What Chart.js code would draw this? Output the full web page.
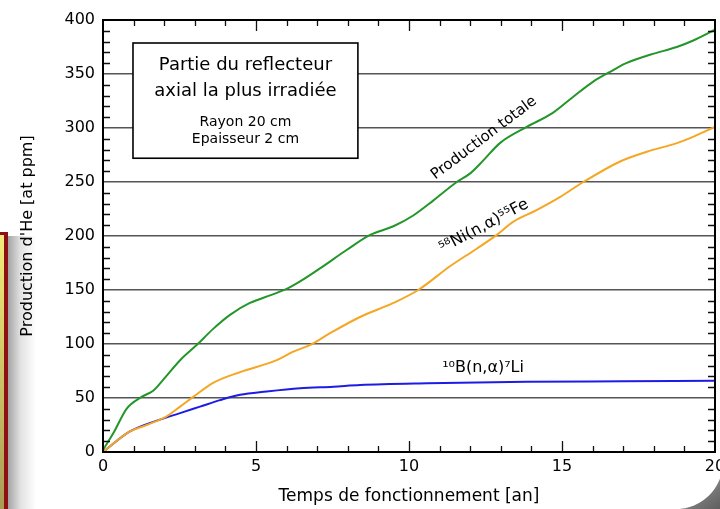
<!DOCTYPE html>
<html>
<head>
<meta charset="utf-8">
<script src="https://cdn.jsdelivr.net/npm/chart.js@4/dist/chart.umd.min.js"></script>
<style>
  html, body { margin: 0; padding: 0; background: #fff; }
  #wrap { width: 720px; height: 509px; position: relative; }
</style>
</head>
<body>
<div id="wrap"><canvas id="c" width="720" height="509"></canvas></div>
<script>
// ---- data ----
const totalYears  = [0, 0.35, 0.77, 1.26, 1.65, 1.97, 2.52, 3.06, 3.6, 4.15, 4.8, 5.46, 6.0, 6.44, 7.09, 7.96, 8.73, 9.49, 10.14, 10.8, 11.56, 12.0, 12.43, 12.97, 13.85, 14.7, 15.37, 16.02, 16.57, 17.1, 17.9, 18.75, 19.29, 20];
const totalValues = [2, 18, 40, 51, 57, 67, 85, 99, 114, 127, 138, 145, 151, 158, 170, 187, 201, 209, 219, 233, 250, 258, 270, 286, 301, 314, 329, 343, 352, 360, 368, 375, 381, 391];

const niYears  = [0, 0.88, 1.43, 2.08, 2.52, 2.95, 3.6, 4.48, 5.68, 6.22, 6.76, 7.42, 8.4, 9.49, 10.3, 11.34, 12.2, 12.87, 13.4, 14.17, 14.93, 15.7, 16.9, 17.77, 18.75, 19.3, 20];
const niValues = [0, 19, 25, 33, 42, 51, 64, 74, 85, 93, 99, 110, 125, 138, 150, 172, 188, 201, 213, 224, 236, 250, 269, 278, 286, 292, 301];

const bYears  = [0, 0.88, 1.86, 2.52, 3.17, 3.82, 4.48, 5.35, 6.44, 7.53, 8.4, 10.6, 13.85, 17, 20];
const bValues = [0, 19, 30, 36, 42, 48, 53, 56, 59, 60.5, 62, 63.6, 65, 65.5, 66];

const seriesNames = ["Production totale", "⁵⁸Ni(n,α)⁵⁵Fe", "¹⁰B(n,α)⁷Li"];
const boxTitle = ["Partie du reflecteur", "axial la plus irradiée"];
const boxSub = ["Rayon 20 cm", "Epaisseur 2 cm"];
const xTitle = "Temps de fonctionnement [an]";
const yTitle = "Production d'He [at ppm]";

const FONT = "'DejaVu Sans', sans-serif";

function pts(xs, ys) { return xs.map((x, i) => ({ x: x, y: ys[i] })); }

// background decoration (frame, shadows)
const bgPlugin = {
  id: 'bg',
  beforeDraw(chart) {
    const ctx = chart.ctx;
    ctx.save();
    ctx.fillStyle = '#fff';
    ctx.fillRect(0, 0, 720, 509);
    // left shadow cast by the frame
    let g = ctx.createLinearGradient(8, 0, 36, 0);
    g.addColorStop(0, '#a5a5a5');
    g.addColorStop(0.45, '#e2e2e2');
    g.addColorStop(1, '#ffffff');
    ctx.fillStyle = g;
    ctx.fillRect(8, 236, 28, 273);
    // left yellow / red frame
    g = ctx.createLinearGradient(0, 233, 0, 509);
    g.addColorStop(0, '#f2ee7a');
    g.addColorStop(1, '#a89c55');
    ctx.fillStyle = g;
    ctx.fillRect(0, 235, 5, 274);
    ctx.fillStyle = '#8a1212';
    ctx.fillRect(0, 232, 8, 3);
    ctx.fillRect(4, 232, 4, 277);
    // bottom-right grey corner
    g = ctx.createLinearGradient(690, 470, 720, 509);
    g.addColorStop(0, '#a0a0a0');
    g.addColorStop(1, '#5e5e5e');
    ctx.fillStyle = g;
    ctx.beginPath();
    ctx.moveTo(720, 470);
    ctx.lineTo(720, 509);
    ctx.lineTo(680, 509);
    ctx.closePath();
    ctx.fill();
    ctx.fillStyle = '#fff';
    ctx.beginPath();
    ctx.arc(676, 462, 47, 0, Math.PI * 2);
    ctx.fill();
    ctx.restore();
  }
};

// inward ticks, frame and annotations
const decoPlugin = {
  id: 'deco',
  afterDatasetsDraw(chart) {
    const ctx = chart.ctx;
    const xs = chart.scales.x, ys = chart.scales.y;
    const a = chart.chartArea;
    ctx.save();
    ctx.strokeStyle = '#111';
    ctx.lineWidth = 1.3;
    ctx.beginPath();
    for (let v = 0; v <= 400; v += 10) {
      if (v % 50 === 0) continue;
      const py = Math.round(ys.getPixelForValue(v)) + 0.5;
      ctx.moveTo(a.left, py); ctx.lineTo(a.left + 7, py);
      ctx.moveTo(a.right, py); ctx.lineTo(a.right - 7, py);
    }
    for (let v = 1; v < 20; v++) {
      const px = Math.round(xs.getPixelForValue(v)) + 0.5;
      const len = v % 5 === 0 ? 11 : 6;
      ctx.moveTo(px, a.bottom); ctx.lineTo(px, a.bottom - len);
      ctx.moveTo(px, a.top); ctx.lineTo(px, a.top + len);
    }
    ctx.stroke();
    // frame
    ctx.lineWidth = 2;
    ctx.strokeStyle = '#000';
    ctx.strokeRect(a.left, a.top, a.right - a.left, a.bottom - a.top);

    // annotation box
    const bx1 = xs.getPixelForValue(0.98), bx2 = xs.getPixelForValue(8.33);
    const by1 = ys.getPixelForValue(378.7), by2 = ys.getPixelForValue(272);
    ctx.fillStyle = '#fff';
    ctx.fillRect(bx1, by1, bx2 - bx1, by2 - by1);
    ctx.lineWidth = 1.6;
    ctx.strokeRect(bx1, by1, bx2 - bx1, by2 - by1);
    const cx = (bx1 + bx2) / 2;
    ctx.fillStyle = '#000';
    ctx.textAlign = 'center';
    ctx.textBaseline = 'middle';
    ctx.font = '18px ' + FONT;
    ctx.fillText(boxTitle[0], cx, by1 + 22);
    ctx.fillText(boxTitle[1], cx, by1 + 48);
    ctx.font = '14px ' + FONT;
    ctx.fillText(boxSub[0], cx, by1 + 79);
    ctx.fillText(boxSub[1], cx, by1 + 96);

    // curve labels
    function label(text, vx, vy, angleDeg, size) {
      ctx.save();
      ctx.translate(xs.getPixelForValue(vx), ys.getPixelForValue(vy));
      ctx.rotate(angleDeg * Math.PI / 180);
      ctx.font = size + 'px ' + FONT;
      ctx.textAlign = 'center';
      ctx.textBaseline = 'middle';
      ctx.fillStyle = '#000';
      ctx.fillText(text, 0, 0);
      ctx.restore();
    }
    label(seriesNames[0], 12.45, 290.7, -37, 15);
    label(seriesNames[1], 12.45, 209, -28, 16);
    label(seriesNames[2], 12.42, 77.8, 0, 16);
    ctx.restore();
  }
};

new Chart(document.getElementById('c'), {
  type: 'scatter',
  data: {
    datasets: [
      { label: seriesNames[0], data: pts(totalYears, totalValues), borderColor: '#23962a' },
      { label: seriesNames[1], data: pts(niYears, niValues), borderColor: '#f5a623' },
      { label: seriesNames[2], data: pts(bYears, bValues), borderColor: '#1c1ce6' }
    ].map(d => Object.assign(d, {
      showLine: true, pointRadius: 0, borderWidth: 2,
      cubicInterpolationMode: 'monotone', fill: false
    }))
  },
  options: {
    responsive: false,
    animation: false,
    events: [],
    layout: { padding: { top: 20, right: 5, left: 0, bottom: 0 } },
    plugins: { legend: { display: false }, tooltip: { enabled: false } },
    scales: {
      x: {
        type: 'linear', min: 0, max: 20,
        ticks: { stepSize: 5, color: '#000', font: { family: FONT, size: 16 }, padding: 5, maxRotation: 0 },
        grid: { display: false, drawTicks: false },
        border: { display: true, color: '#000', width: 2 },
        title: { display: true, text: xTitle, color: '#000', font: { family: FONT, size: 17 }, padding: { top: 0, bottom: 2 } },
        afterFit(s) { s.height = 57; s.paddingLeft = 0; s.paddingRight = 0; }
      },
      y: {
        type: 'linear', min: 0, max: 400,
        ticks: { stepSize: 50, color: '#000', font: { family: FONT, size: 16 }, padding: 8 },
        grid: { display: true, drawTicks: false, color: '#555', lineWidth: 1.5 },
        border: { display: true, color: '#000', width: 2 },
        title: { display: true, text: yTitle, color: '#000', font: { family: FONT, size: 16 }, padding: { top: 18, bottom: 0 } },
        afterFit(s) { s.width = 103; s.paddingTop = 0; s.paddingBottom = 0; }
      }
    }
  },
  plugins: [bgPlugin, decoPlugin]
});
</script>
</body>
</html>
